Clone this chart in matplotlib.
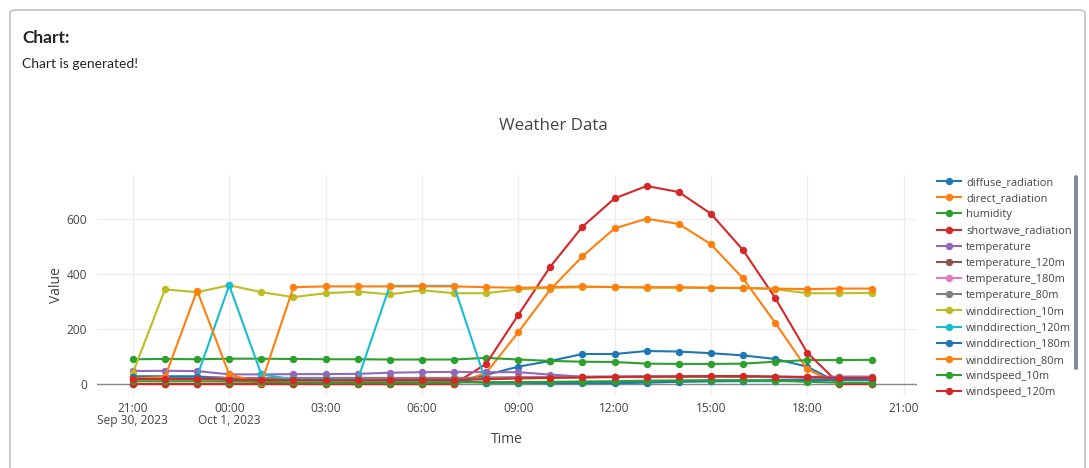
import numpy as np
import pandas as pd
import matplotlib
matplotlib.use("Agg")
import matplotlib.pyplot as plt
from matplotlib.patches import FancyBboxPatch

plt.rcParams['font.family'] = ['Open Sans', 'DejaVu Sans']

# --- datos (horario, 21:00 Sep 30 -> 20:00 Oct 1) ---
tiempo = pd.date_range("2023-09-30 21:00", periods=24, freq="h")

diffuse_radiation = [0, 0, 0, 0, 0, 0, 0, 0, 0, 0, 0, 33, 63, 84, 109, 109, 120, 118, 112, 104, 91, 63, 2, 0]
direct_radiation = [0, 0, 0, 0, 0, 0, 0, 0, 0, 0, 0, 40, 188, 344, 464, 566, 601, 582, 508, 384, 223, 53, 0, 0]
humidity = [90, 91, 90, 92, 92, 91, 90, 90, 89, 89, 89, 95, 89, 84, 81, 80, 74, 73, 73, 74, 81, 87, 87, 88]
shortwave_radiation = [0, 0, 0, 0, 0, 0, 0, 0, 0, 0, 0, 73, 251, 427, 572, 675, 720, 698, 619, 487, 313, 114, 0, 0]
temperature = [47, 48, 47, 35, 35, 36, 36, 37, 41, 43, 44, 43, 43, 34, 27, 27, 27, 26, 26, 26, 26, 26, 27, 27]
temperature_120m = [27, 27, 27, 22, 22, 22, 22, 22, 22, 22, 22, 23, 24, 25, 25, 26, 26, 26, 27, 27, 26, 25, 25, 24]
temperature_180m = [25, 25, 25, 20, 20, 20, 20, 20, 20, 20, 21, 22, 23, 24, 24, 25, 25, 25, 26, 26, 25, 24, 24, 23]
temperature_80m = [26, 26, 26, 21, 21, 21, 21, 21, 21, 21, 21, 22, 23, 24, 25, 25, 26, 26, 26, 26, 25, 24, 24, 23]
winddirection_10m = [40, 344, 334, 359, 334, 316, 330, 336, 326, 341, 330, 330, 344, 350, 352, 353, 350, 350, 350, 349, 345, 330, 330, 331]
winddirection_120m = [27, 27, 27, 359, 35, 17, 17, 15, 357, 357, 357, 5, 5, 5, 8, 8, 10, 10, 10, 10, 10, 12, 15, 15]
winddirection_180m = [27, 27, 27, 15, 14, 14, 13, 13, 12, 12, 12, 5, 5, 3, 3, 3, 5, 8, 10, 12, 14, 15, 15, 15]
winddirection_80m = [20, 25, 340, 35, 3, 352, 355, 355, 355, 355, 355, 352, 350, 352, 355, 352, 352, 352, 350, 349, 347, 345, 347, 347]
windspeed_10m = [10, 10, 10, 9, 8, 6, 5, 5, 5, 5, 6, 6, 7, 8, 9, 10, 12, 13, 14, 14, 12, 8, 5, 5]
windspeed_120m = [18, 18, 18, 16, 15, 14, 13, 13, 14, 15, 15, 17, 20, 22, 24, 26, 27, 28, 29, 29, 27, 25, 22, 22]

series = [
    ("diffuse_radiation", diffuse_radiation),
    ("direct_radiation", direct_radiation),
    ("humidity", humidity),
    ("shortwave_radiation", shortwave_radiation),
    ("temperature", temperature),
    ("temperature_120m", temperature_120m),
    ("temperature_180m", temperature_180m),
    ("temperature_80m", temperature_80m),
    ("winddirection_10m", winddirection_10m),
    ("winddirection_120m", winddirection_120m),
    ("winddirection_180m", winddirection_180m),
    ("winddirection_80m", winddirection_80m),
    ("windspeed_10m", windspeed_10m),
    ("windspeed_120m", windspeed_120m),
]

colores = ['#1f77b4', '#ff7f0e', '#2ca02c', '#d62728', '#9467bd',
           '#8c564b', '#e377c2', '#7f7f7f', '#bcbd22', '#17becf']

W, H = 1089, 468
fig = plt.figure(figsize=(W / 100, H / 100), dpi=100)

# tarjeta con encabezado (detrás de todo)
card = FancyBboxPatch((10 / W, -0.05), 1075 / W, 1 - 10 / H + 0.05,
                      boxstyle="round,pad=0,rounding_size=0.006",
                      transform=fig.transFigure, facecolor='none',
                      edgecolor='#b8b8b8', linewidth=1.0, zorder=-10)
fig.patches.append(card)
fig.text(22 / W, 1 - 38 / H, "Chart:", fontsize=12.5, fontweight='bold',
         color='#212529', va='center', family=['Lato', 'DejaVu Sans'])
fig.text(22 / W, 1 - 64 / H, "Chart is generated!", fontsize=10,
         color='#212529', va='center', family=['Lato', 'DejaVu Sans'])

ax = fig.add_axes([97 / W, 1 - 395 / H, 820 / W, 220 / H])
ax.set_facecolor('none')

for i, (nombre, valores) in enumerate(series):
    ax.plot(tiempo, valores, color=colores[i % 10], linewidth=1.5,
            marker='o', markersize=4.3, label=nombre)

ax.set_ylim(-40, 760)
ax.set_xlim(pd.Timestamp("2023-09-30 19:53"), pd.Timestamp("2023-10-01 21:25"))
ax.set_yticks([0, 200, 400, 600])
ax.axhline(0, color='#8a8a8a', linewidth=1.0, zorder=1)

ticks = pd.date_range("2023-09-30 21:00", periods=9, freq="3h")
etiquetas = ["21:00\nSep 30, 2023", "00:00\nOct 1, 2023", "03:00", "06:00",
             "09:00", "12:00", "15:00", "18:00", "21:00"]
ax.set_xticks(ticks)
ax.set_xticklabels(etiquetas, linespacing=0.95)

ax.grid(True, color='#eeeeee', linewidth=1.0)
ax.set_axisbelow(True)
for s in ax.spines.values():
    s.set_visible(False)
ax.tick_params(length=0, labelsize=8.6, colors='#444444')
ax.tick_params(axis='x', pad=5)
ax.tick_params(axis='y', pad=7)
ax.set_xlabel("Time", fontsize=10, color='#444444', labelpad=3)
ax.set_ylabel("Value", fontsize=10, color='#444444', labelpad=2)

fig.text(553 / W, 1 - 126 / H, "Weather Data", fontsize=12.2, color='#444444',
         ha='center', va='center')

leg = ax.legend(loc='upper left', bbox_to_anchor=(937 / W, 1 - 177 / H),
                bbox_transform=fig.transFigure, frameon=False, fontsize=7.9,
                handlelength=2.2, handletextpad=0.45, labelspacing=0.47,
                borderpad=0, borderaxespad=0)
for t in leg.get_texts():
    t.set_color('#444444')

# barra de desplazamiento de la leyenda
barra = FancyBboxPatch((1074 / W, 1 - 370 / H), 4 / W, 195 / H,
                       boxstyle="round,pad=0,rounding_size=0.003",
                       transform=fig.transFigure, facecolor='#808aa0',
                       edgecolor='none')
fig.patches.append(barra)

fig.savefig("out.png", dpi=100)
